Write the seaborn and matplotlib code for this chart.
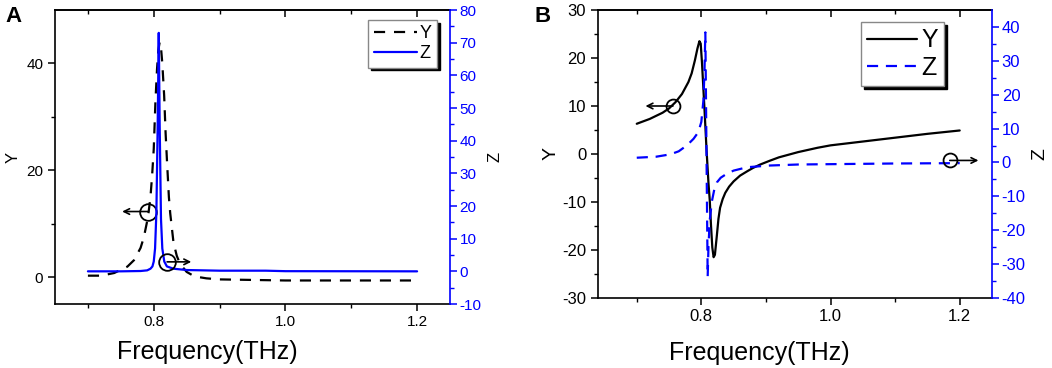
import numpy as np
import pandas as pd
import matplotlib
matplotlib.use("Agg")
import matplotlib.pyplot as plt
import seaborn as sns

# ---------------- data ----------------
# Panel A
a_y_freq = [0.70, 0.72, 0.74, 0.76, 0.77, 0.78, 0.785, 0.79, 0.792, 0.795, 0.7975, 0.80,
            0.8026, 0.805, 0.807, 0.809, 0.811, 0.813, 0.8158, 0.818, 0.82, 0.823, 0.825,
            0.83, 0.835, 0.84, 0.85, 0.86, 0.87, 0.88, 0.90, 0.95, 1.00, 1.10, 1.20]
a_y_vals = [0.3, 0.3, 0.8, 2.0, 3.2, 5.5, 7.5, 10.5, 12.0, 15.0, 19.0, 24.0,
            33.0, 39.0, 42.5, 44.0, 43.0, 40.0, 34.0, 27.0, 22.0, 15.0, 12.0,
            6.5, 4.0, 2.5, 1.0, 0.3, 0.0, -0.2, -0.4, -0.5, -0.6, -0.6, -0.6]
a_z_freq = [0.70, 0.75, 0.78, 0.79, 0.795, 0.798, 0.800, 0.802, 0.804, 0.806, 0.8076,
            0.809, 0.811, 0.813, 0.816, 0.82, 0.83, 0.85, 0.90, 0.97, 1.00, 1.20]
a_z_vals = [0.0, 0.0, 0.1, 0.3, 0.8, 1.5, 3.0, 7.0, 18.0, 45.0, 73.0,
            45.0, 16.0, 7.0, 3.0, 1.5, 0.8, 0.4, 0.2, 0.2, 0.05, 0.0]

# Panel B
b_y_freq = [0.70, 0.72, 0.74, 0.75, 0.76, 0.77, 0.78, 0.785, 0.79, 0.794, 0.797, 0.799,
            0.801, 0.803, 0.805, 0.808, 0.811, 0.813, 0.815, 0.817, 0.819, 0.821, 0.824,
            0.8265, 0.829, 0.833, 0.837, 0.843, 0.85, 0.86, 0.871, 0.88, 0.891, 0.906,
            0.92, 0.95, 0.98, 1.00, 1.05, 1.10, 1.15, 1.20]
b_y_vals = [6.3, 7.3, 8.6, 9.5, 10.8, 12.5, 15.0, 16.8, 19.5, 22.0, 23.5, 23.0,
            19.0, 14.0, 9.0, 1.0, -6.0, -9.6, -15.0, -19.5, -21.5, -21.0, -17.0,
            -13.5, -11.2, -9.4, -8.1, -6.8, -5.7, -4.5, -3.6, -2.9, -2.2, -1.4,
            -0.7, 0.4, 1.3, 1.8, 2.6, 3.4, 4.2, 4.9]
b_z_freq = [0.70, 0.73, 0.752, 0.765, 0.778, 0.788, 0.7955, 0.800, 0.8033, 0.805, 0.8062,
            0.8098, 0.811, 0.813, 0.8165, 0.82, 0.824, 0.83, 0.8396, 0.85, 0.871, 0.906,
            0.95, 1.00, 1.10, 1.20]
b_z_vals = [1.4, 1.7, 2.4, 3.3, 5.1, 7.0, 9.0, 12.0, 18.5, 28.0, 38.4,
            -33.7, -25.0, -17.0, -11.3, -8.0, -5.9, -4.5, -3.3, -2.4, -1.4, -0.9,
            -0.6, -0.5, -0.3, -0.2]

x_ticks = [0.8, 1.0, 1.2]
x_tick_labels = ["0.8", "1.0", "1.2"]
series_names = ["Y", "Z"]

# ---------------- style ----------------
sns.set_style("ticks")
plt.rcParams["font.family"] = ["Liberation Sans", "DejaVu Sans"]
plt.rcParams["axes.linewidth"] = 1.2
plt.rcParams["axes.unicode_minus"] = False
plt.rcParams["text.color"] = "black"
plt.rcParams["axes.labelcolor"] = "black"
plt.rcParams["xtick.color"] = "black"
plt.rcParams["ytick.color"] = "black"

BLUE = "#0000ff"

fig = plt.figure(figsize=(10.52, 3.68), dpi=100)
axA = fig.add_axes([55 / 1052, 1 - 304 / 368, 395 / 1052, 294 / 368])
axB = fig.add_axes([598 / 1052, 1 - 298 / 368, 394 / 1052, 288 / 368])
axA2 = axA.twinx()
axB2 = axB.twinx()


def style_axes(ax, ax2, xlim, ylim, ylim2, ymaj, ymin_, zmaj, zmin_, tick_fs):
    ax.set_xlim(*xlim)
    ax.set_ylim(*ylim)
    ax2.set_ylim(*ylim2)
    ax.set_xticks(x_ticks)
    ax.set_xticklabels(x_tick_labels)
    ax.set_xticks(np.arange(0.7, 1.21, 0.1), minor=True)
    ax.set_yticks(ymaj)
    ax.set_yticks(ymin_, minor=True)
    ax2.set_yticks(zmaj)
    ax2.set_yticks(zmin_, minor=True)
    ax.tick_params(axis="both", which="major", direction="out", length=5, width=1.1,
                   labelsize=tick_fs, colors="black")
    ax.tick_params(axis="both", which="minor", direction="out", length=3, width=1.0)
    ax.tick_params(axis="x", pad=3)
    ax2.tick_params(axis="y", which="major", direction="out", length=5, width=1.1,
                    labelsize=tick_fs, colors=BLUE, pad=2)
    ax2.tick_params(axis="y", which="minor", direction="out", length=3, width=1.0, colors=BLUE)
    for s in ["left", "bottom", "top"]:
        ax.spines[s].set_visible(True)
        ax.spines[s].set_color("black")
    ax.spines["right"].set_visible(False)
    ax2.spines["right"].set_visible(True)
    ax2.spines["right"].set_color(BLUE)
    ax2.spines["left"].set_visible(False)
    ax2.spines["top"].set_visible(False)
    ax2.spines["bottom"].set_visible(False)
    top = ax.secondary_xaxis("top")
    top.set_xticks(x_ticks)
    top.set_xticks(np.arange(0.7, 1.21, 0.1), minor=True)
    top.tick_params(axis="x", which="major", direction="in", length=5, width=1.1, labeltop=False)
    top.tick_params(axis="x", which="minor", direction="in", length=3, width=1.0)
    top.spines["top"].set_color("black")
    ax.set_xlabel("Frequency(THz)", fontsize=18, va="center")


# ---------------- Panel A ----------------
dfAy = pd.DataFrame({"f": a_y_freq, "v": a_y_vals})
dfAz = pd.DataFrame({"f": a_z_freq, "v": a_z_vals})
sns.lineplot(data=dfAy, x="f", y="v", ax=axA, color="black", lw=1.6, estimator=None,
             linestyle=(0, (5, 4)), label=series_names[0], legend=False)
sns.lineplot(data=dfAz, x="f", y="v", ax=axA2, color=BLUE, lw=1.6, estimator=None,
             label=series_names[1], legend=False)
style_axes(axA, axA2, (0.65, 1.25), (-5, 50), (-10, 80),
           [0, 20, 40], [10, 30], np.arange(-10, 81, 10), np.arange(-5, 80, 10), 11)
axA.set_ylabel("Y", fontsize=12, labelpad=4)
axA2.set_ylabel("Z", fontsize=12, labelpad=4, rotation=90)
axA.xaxis.set_label_coords(0.385, -0.163)

axA.plot([0.792], [12.3], marker="o", ms=12, mfc="none", mec="black", mew=1.3)
axA.annotate("", xy=(0.752, 12.3), xytext=(0.792, 12.3),
             arrowprops=dict(arrowstyle="->", lw=1.2, color="black", shrinkA=0, shrinkB=0))
axA2.plot([0.8203], [2.9], marker="o", ms=12, mfc="none", mec="black", mew=1.3)
axA2.annotate("", xy=(0.857, 2.9), xytext=(0.8203, 2.9),
              arrowprops=dict(arrowstyle="->", lw=1.2, color="black", shrinkA=0, shrinkB=0))

hA = [axA.lines[0], axA2.lines[0]]
legA = axA2.legend(hA, series_names, loc="upper right", bbox_to_anchor=(0.967, 0.966),
                   borderaxespad=0, fancybox=False, edgecolor="#888888", framealpha=1,
                   shadow={"color": "black", "alpha": 1}, fontsize=13, handlelength=2.4,
                   handletextpad=0.15, borderpad=0.3, labelspacing=0.15)
legA.get_frame().set_linewidth(1.0)

# ---------------- Panel B ----------------
dfBy = pd.DataFrame({"f": b_y_freq, "v": b_y_vals})
dfBz = pd.DataFrame({"f": b_z_freq, "v": b_z_vals})
sns.lineplot(data=dfBy, x="f", y="v", ax=axB, color="black", lw=1.6, estimator=None,
             label=series_names[0], legend=False)
sns.lineplot(data=dfBz, x="f", y="v", ax=axB2, color=BLUE, lw=1.6, estimator=None,
             linestyle=(0, (5, 3.5)), label=series_names[1], legend=False)
style_axes(axB, axB2, (0.64, 1.25), (-30, 30), (-40, 45),
           np.arange(-30, 31, 10), np.arange(-25, 30, 10), np.arange(-40, 41, 10),
           np.arange(-35, 45, 10), 12)
axB.set_ylabel("Y", fontsize=14, labelpad=2)
axB2.set_ylabel("Z", fontsize=14, labelpad=4, rotation=90)
axB.xaxis.set_label_coords(0.409, -0.191)

axB.plot([0.756], [10.0], marker="o", ms=10, mfc="none", mec="black", mew=1.3)
axB.annotate("", xy=(0.7135, 10.0), xytext=(0.756, 10.0),
             arrowprops=dict(arrowstyle="->", lw=1.2, color="black", shrinkA=0, shrinkB=0))
axB2.plot([1.1846], [0.6], marker="o", ms=10, mfc="none", mec="black", mew=1.3)
axB2.annotate("", xy=(1.229, 0.6), xytext=(1.1846, 0.6),
              arrowprops=dict(arrowstyle="->", lw=1.2, color="black", shrinkA=0, shrinkB=0))

hB = [axB.lines[0], axB2.lines[0]]
legB = axB2.legend(hB, series_names, loc="upper right", bbox_to_anchor=(0.878, 0.958),
                   borderaxespad=0, fancybox=False, edgecolor="#888888", framealpha=1,
                   shadow={"color": "black", "alpha": 1}, fontsize=18, handlelength=2.0,
                   handletextpad=0.15, borderpad=0.25, labelspacing=0.15)
legB.get_frame().set_linewidth(1.0)

fig.text(5 / 1052, 1 - 22 / 368, "A", fontsize=16, fontweight="bold")
fig.text(535 / 1052, 1 - 22 / 368, "B", fontsize=16, fontweight="bold")

fig.savefig("out.png", dpi=100)
